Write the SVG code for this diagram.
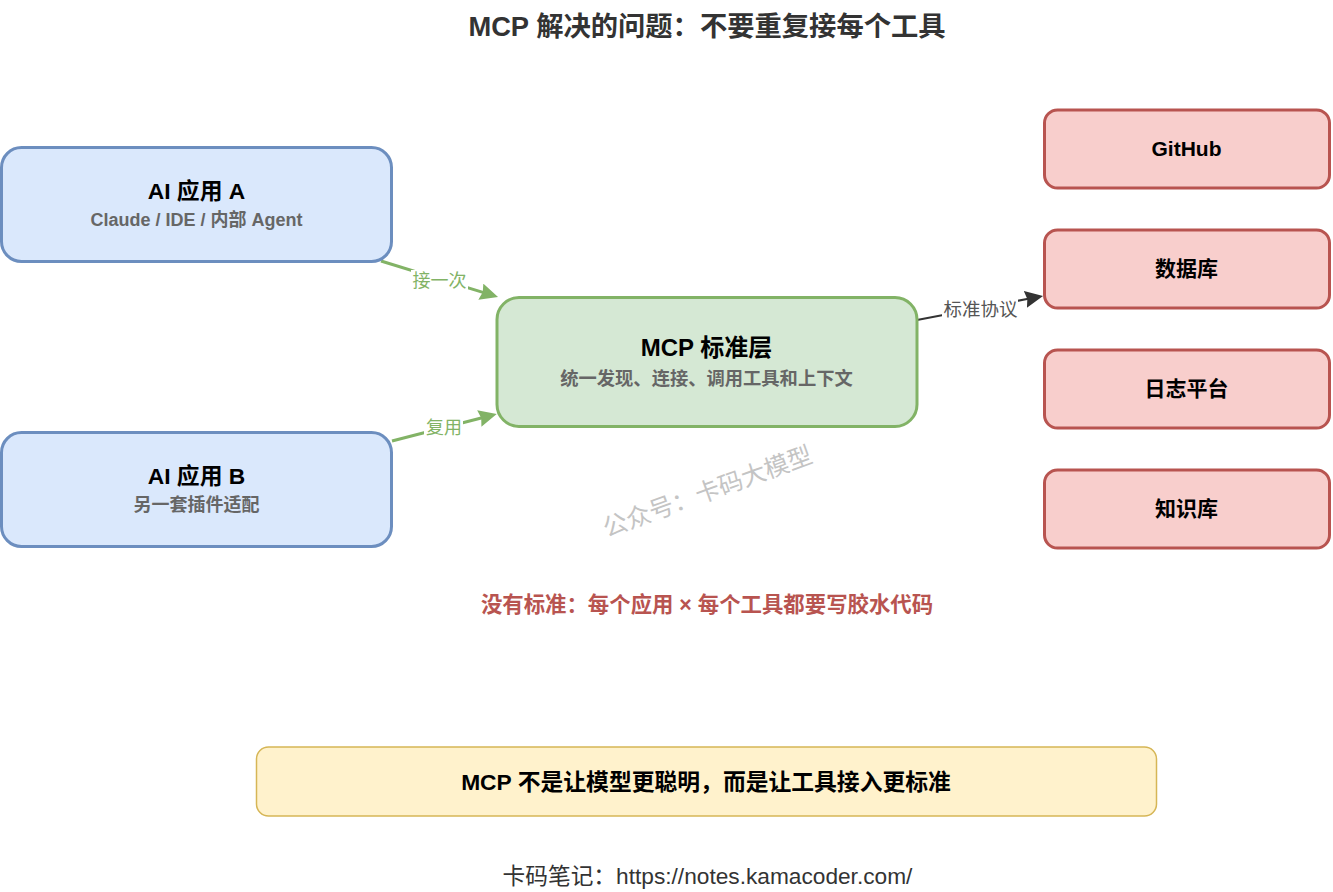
<svg xmlns="http://www.w3.org/2000/svg" width="1333" height="892" viewBox="0 0 1333 892">
<style>
text{font-family:"Liberation Sans","Noto Sans CJK SC",Arial,sans-serif;text-anchor:middle}
.b{font-weight:700}
.t{font-size:22.800px;font-weight:700;fill:#000}
.u{font-size:21px;font-weight:700;fill:#000}
.s{font-size:18px;font-weight:700;fill:#666}
.n{stroke-width:3}
.a{fill:#dae8fc;stroke:#6c8ebf}
.m{fill:#d5e8d4;stroke:#82b366}
.r{fill:#f8cecc;stroke:#b85450}
.g{fill:none;stroke:#82b366;stroke-width:3}
.k{fill:none;stroke:#333;stroke-width:2}
.lg{font-size:18px;fill:#82b366}
</style>
<defs>
<marker id="ag" markerUnits="userSpaceOnUse" markerWidth="20" markerHeight="18" refX="3" refY="8.500" orient="auto"><path d="M0 0L18 8.500L0 17L2 8.500Z" fill="#82b366"/></marker>
<marker id="ak" markerUnits="userSpaceOnUse" markerWidth="20" markerHeight="18" refX="3" refY="8.500" orient="auto"><path d="M0 0L18 8.500L0 17L2 8.500Z" fill="#333"/></marker>
</defs>
<rect width="1333" height="892" fill="#fff"/>
<text x="707" y="36" class="b" font-size="27.300" fill="#333">MCP 解决的问题：不要重复接每个工具</text>
<g id="connectors">
<path class="g" d="M381 261L483.700 292.600" marker-end="url(#ag)"/>
<path class="g" d="M392 441L482.200 417.700" marker-end="url(#ag)"/>
<path class="k" d="M917 320L1028.300 298.800" marker-end="url(#ak)"/>
<rect x="411" y="270" width="57" height="21" fill="#fff"/>
<rect x="424" y="417" width="39" height="21" fill="#fff"/>
<rect x="942" y="299" width="76" height="21" fill="#fff"/>
<text x="439.500" y="287" class="lg">接一次</text>
<text x="444" y="434" class="lg">复用</text>
<text x="980.500" y="316" font-size="18.500" fill="#555">标准协议</text>
</g>
<g id="node-a"><rect class="n a" x="1.500" y="147.500" width="390" height="114" rx="20"/><text x="196.500" y="199" class="t">AI 应用 A</text><text x="196.500" y="226" class="s">Claude / IDE / 内部 Agent</text></g>
<g id="node-b"><rect class="n a" x="1.500" y="432.500" width="390" height="114" rx="20"/><text x="196.500" y="484" class="t">AI 应用 B</text><text x="196.500" y="511" class="s">另一套插件适配</text></g>
<g id="node-mcp"><rect class="n m" x="497" y="297.500" width="420" height="129" rx="22"/><text x="706.500" y="356" font-size="24" class="b">MCP 标准层</text><text x="706.500" y="385" class="s" style="font-size:18.300px">统一发现、连接、调用工具和上下文</text></g>
<g id="node-github"><rect class="n r" x="1044.500" y="110" width="285" height="78" rx="13"/><text x="1186.500" y="156" class="u">GitHub</text></g>
<g id="node-db"><rect class="n r" x="1044.500" y="230" width="285" height="78" rx="13"/><text x="1186.500" y="276" class="u">数据库</text></g>
<g id="node-log"><rect class="n r" x="1044.500" y="350" width="285" height="78" rx="13"/><text x="1186.500" y="396" class="u">日志平台</text></g>
<g id="node-kb"><rect class="n r" x="1044.500" y="470" width="285" height="78" rx="13"/><text x="1186.500" y="516" class="u">知识库</text></g>
<text transform="translate(708 493) rotate(-20)" x="0" y="7" font-size="24.500" fill="#c4c4c4">公众号：卡码大模型</text>
<text x="707" y="612" class="b" font-size="21.400" fill="#b85450">没有标准：每个应用 × 每个工具都要写胶水代码</text>
<g id="note"><rect x="256.500" y="747" width="900" height="69" rx="12" fill="#fff2cc" stroke="#d6b656" stroke-width="1.500"/><text x="706" y="790" class="t">MCP 不是让模型更聪明，而是让工具接入更标准</text></g>
<text x="707.500" y="884" font-size="22.700" fill="#333">卡码笔记：https://notes.kamacoder.com/</text>
</svg>
